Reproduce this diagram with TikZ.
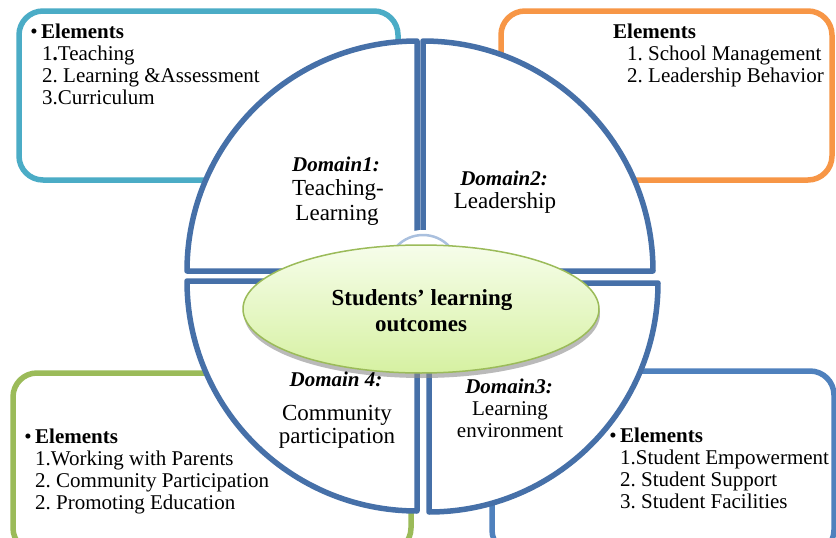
\documentclass[tikz,border=0pt]{standalone}
\usepackage{fontspec}
\setmainfont{Liberation Serif}
\frenchspacing
\definecolor{qblue}{RGB}{70,112,168}
\definecolor{tealc}{RGB}{75,172,198}
\definecolor{orangec}{RGB}{247,150,70}
\definecolor{greenc}{RGB}{155,187,89}
\definecolor{bluec}{RGB}{79,129,189}
\definecolor{lblue}{RGB}{170,192,222}
\definecolor{etop}{RGB}{246,253,234}
\definecolor{ebot}{RGB}{214,241,162}
\begin{document}
\frenchspacing
\begin{tikzpicture}[x=1pt,y=-1pt,
  box/.style={line width=5.5pt, rounded corners=24pt, fill=white},
  quad/.style={draw=qblue, line width=5.5pt, fill=white, line join=round},
  el/.style={inner sep=0pt, anchor=base west, font=\fontsize{21}{22}\selectfont},
  dom/.style={inner sep=0pt, anchor=base, font=\fontsize{21}{22}\selectfont\bfseries\itshape},
  dtxt/.style={inner sep=0pt, anchor=base, font=\fontsize{23}{24}\selectfont},
  dsml/.style={inner sep=0pt, anchor=base, font=\fontsize{21}{22}\selectfont},
  ctxt/.style={inner sep=0pt, anchor=base, font=\fontsize{23}{24}\selectfont\bfseries}]
\useasboundingbox (0,0) rectangle (836,538);
\clip (0,0) rectangle (836,538);
\fill[white] (0,0) rectangle (836,538);
% corner boxes
\draw[box, draw=tealc] (19,11) rectangle (398,180);
\draw[box, draw=orangec] (501,11) rectangle (832,180);
\draw[box, draw=greenc] (13,373) rectangle (411,552);
\draw[box, draw=bluec] (492,371) rectangle (834,554);
% quadrants
\draw[quad] (417,271) -- (187,271) arc[start angle=180, end angle=270, radius=230] -- cycle;
\draw[quad] (423,271) -- (423,41) arc[start angle=270, end angle=360, radius=230] -- cycle;
\draw[quad] (417,281) -- (417,511) arc[start angle=90, end angle=180, radius=230] -- cycle;
\draw[quad] (429,283) -- (658,283) arc[start angle=0, end angle=90, radius=229] -- cycle;
% small centre circle
\fill[white] (423,271) circle[radius=41];
\draw[lblue, line width=2.5pt] (423,271) circle[radius=36];
% central ellipse
\fill[black!45, opacity=0.6] (422,314) ellipse[x radius=178, y radius=64];
\draw[greenc, line width=1.5pt, top color=etop, bottom color=ebot] (421,309) ellipse[x radius=178, y radius=64];
\node[ctxt] (c1) at (422,305) {Students’ learning};
\node[ctxt] (c2) at (421,331) {outcomes};
% domain texts
\node[dom] (d1h) at (336,171) {Domain1:};
\node[dtxt] (d1a) at (338,195) {Teaching-};
\node[dtxt] (d1b) at (337,220) {Learning};
\node[dom] (d2h) at (504,185) {Domain2:};
\node[dtxt] (d2a) at (505,208) {Leadership};
\node[dom] (d4h) at (336,386) {Domain 4:};
\node[dtxt] (d4a) at (337,420) {Community};
\node[dtxt] (d4b) at (337,443) {participation};
\node[dom] (d3h) at (509,393) {Domain3:};
\node[dsml] (d3a) at (510,415) {Learning};
\node[dsml] (d3b) at (510,437) {environment};
% TL elements
\node[el, anchor=base east] (b1) at (38,38) {•};
\node[el] (e1h) at (41,38) {\textbf{Elements}};
\node[el] (e1a) at (42,60) {1\textbf{.}Teaching};
\node[el] (e1b) at (42,82) {2. Learning \&Assessment};
\node[el] (e1c) at (42,104) {3.Curriculum};
% TR elements
\node[el] (e2h) at (613,38) {\textbf{Elements}};
\node[el] (e2a) at (627,60) {1. School Management};
\node[el] (e2b) at (627,82) {2. Leadership Behavior};
% BL elements
\node[el, anchor=base east] (b4) at (32,443) {•};
\node[el] (e4h) at (35,443) {\textbf{Elements}};
\node[el] (e4a) at (35,465) {1.Working with Parents};
\node[el] (e4b) at (35,487) {2. Community Participation};
\node[el] (e4c) at (35,509) {2. Promoting Education};
% BR elements
\node[el, anchor=base east] (b3) at (617,442) {•};
\node[el] (e3h) at (620,442) {\textbf{Elements}};
\node[el] (e3a) at (620,464) {1.Student Empowerment};
\node[el] (e3b) at (620,486) {2. Student Support};
\node[el] (e3c) at (620,508) {3. Student Facilities};
\end{tikzpicture}
\end{document}
